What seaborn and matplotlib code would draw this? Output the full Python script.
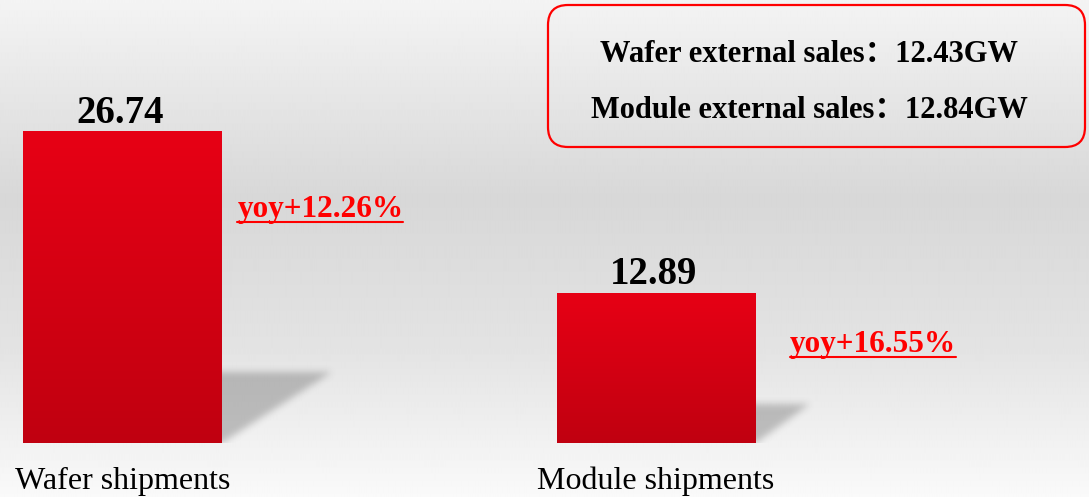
import numpy as np
import pandas as pd
import matplotlib
matplotlib.use("Agg")
import matplotlib.pyplot as plt
import seaborn as sns
from matplotlib.patches import FancyBboxPatch
from matplotlib.lines import Line2D
from matplotlib.colors import LinearSegmentedColormap
from matplotlib.transforms import IdentityTransform

# data
categories = ["Wafer shipments", "Module shipments"]
shipments = [26.74, 12.89]
yoy_labels = ["yoy+12.26%", "yoy+16.55%"]
box_lines = ["Wafer external sales：12.43GW", "Module external sales：12.84GW"]

W, H = 1089, 497
SERIF = ["Liberation Serif", "Noto Sans CJK SC"]

sns.set_theme(style="white")
plt.rcParams["font.family"] = SERIF

fig = plt.figure(figsize=(W / 100, H / 100), dpi=100)

# background gradient (light top, grey middle, near white bottom)
bg = fig.add_axes([0, 0, 1, 1])
bg.axis("off")
rows = np.linspace(0, 1, H)
shade = np.interp(rows, [0.0, 0.40, 0.70, 1.0], [0.955, 0.845, 0.89, 0.978])
bg.imshow(np.repeat(shade[:, None], 10, axis=1), cmap="gray", vmin=0, vmax=1,
          aspect="auto", extent=(0, 1, 0, 1), interpolation="bilinear")
bg.set_xlim(0, 1)
bg.set_ylim(0, 1)

# main axes: baseline of bars at pixel row 443
base_px = 443
ax = fig.add_axes([0, 1 - base_px / H, 1, base_px / H])
ax.patch.set_alpha(0)

df = pd.DataFrame({"category": categories, "value": shipments})
sns.barplot(data=df, x="category", y="value", color="#d8000f", saturation=1,
            width=0.373, linewidth=0, ax=ax)

ax.set_xlim(-0.2296, 1.8116)
ax.set_ylim(0, 38.0)
ax.set_xlabel("")
ax.set_ylabel("")
ax.set_yticks([])
ax.set_xticks([0, 1])
ax.set_xticklabels(categories, fontsize=23, color="black")
ax.tick_params(axis="x", length=0, pad=17)
for sp in ax.spines.values():
    sp.set_visible(False)


def box_blur(a, r, n=3):
    k = np.ones(2 * r + 1) / (2 * r + 1)
    for _ in range(n):
        a = np.apply_along_axis(lambda v: np.convolve(v, k, mode="same"), 0, a)
        a = np.apply_along_axis(lambda v: np.convolve(v, k, mode="same"), 1, a)
    return a


# red vertical gradient on bars + soft shadow to the right
red_cmap = LinearSegmentedColormap.from_list("bar", ["#c00010", "#e70015"])
grad = np.linspace(0, 1, 256)[:, None]
fig.canvas.draw()
to_px = ax.transData
to_data = ax.transData.inverted()
for p in ax.patches:
    x0, y0 = p.get_x(), p.get_y()
    x1, y1 = x0 + p.get_width(), y0 + p.get_height()
    (px1, py0), (_, py1) = to_px.transform([(x1, y0), (x1, y1)])
    h = py1 - py0
    sh = 0.2 * h + 8
    sw = 0.35 * h
    m = 16
    gw, gh = int(sw + 2 * m + 10), int(sh + 2 * m)
    yy, xx = np.mgrid[0:gh, 0:gw]
    ly = (gh - 1 - yy) - m   # height above base, pixels
    lx = xx - m - 10         # distance right of bar edge
    mask = ((ly >= 0) & (ly <= sh) & (lx <= sw * ly / sh)).astype(float)
    mask = box_blur(mask, 3)
    rgba = np.zeros((gh, gw, 4))
    rgba[..., :3] = 0.3
    rgba[..., 3] = mask * 0.32
    ext_px = [(px1 - m - 10, py0 - m), (px1 - m - 10 + gw, py0 - m + gh)]
    (ex0, ey0), (ex1, ey1) = to_data.transform(ext_px)
    ax.imshow(rgba, extent=(ex0, ex1, ey0, ey1), aspect="auto",
              zorder=0.5, interpolation="bilinear")
    im = ax.imshow(grad, cmap=red_cmap, extent=(x0, x1, y0, y1), aspect="auto",
                   origin="lower", zorder=p.get_zorder() + 0.1, interpolation="bilinear")
    im.set_clip_path(p)

ax.set_xlim(-0.2296, 1.8116)
ax.set_ylim(0, 38.0)

# value labels
for i, v in enumerate(shipments):
    ax.annotate(f"{v:.2f}", (i, v), xytext=(-2, 6), textcoords="offset points",
                ha="center", va="baseline", fontsize=28, fontweight="bold",
                color="black", zorder=5)

# yoy labels (underlined)
yoy_offsets = [(11, -62), (25, -42.5)]
yoy_texts = []
for i, (lab, off) in enumerate(zip(yoy_labels, yoy_offsets)):
    p = ax.patches[i]
    t = ax.annotate(lab, (p.get_x() + p.get_width(), p.get_height()), xytext=off,
                    textcoords="offset points", ha="left", va="baseline",
                    fontsize=22.5, fontweight="bold", color="#ff0000", zorder=5)
    yoy_texts.append(t)

# rounded box with external sales
box = FancyBboxPatch((548, H - 147), 537, 142,
                     boxstyle="round,pad=0,rounding_size=20",
                     transform=IdentityTransform(), facecolor="none",
                     edgecolor="#ff0000", linewidth=1.6, zorder=10)
fig.add_artist(box)
for line, ypx in zip(box_lines, [54, 111]):
    fig.text(809 / W, 1 - ypx / H, line, ha="center", va="center",
             fontsize=22, fontweight="bold", color="black", family=SERIF)

fig.canvas.draw()
renderer = fig.canvas.get_renderer()
for t in yoy_texts:
    bb = t.get_window_extent(renderer)
    yline = bb.y0 + 2
    fig.add_artist(Line2D([bb.x0, bb.x1], [yline, yline], color="#ff0000",
                          linewidth=1.5, transform=IdentityTransform()))

fig.savefig("out.png", dpi=100)
